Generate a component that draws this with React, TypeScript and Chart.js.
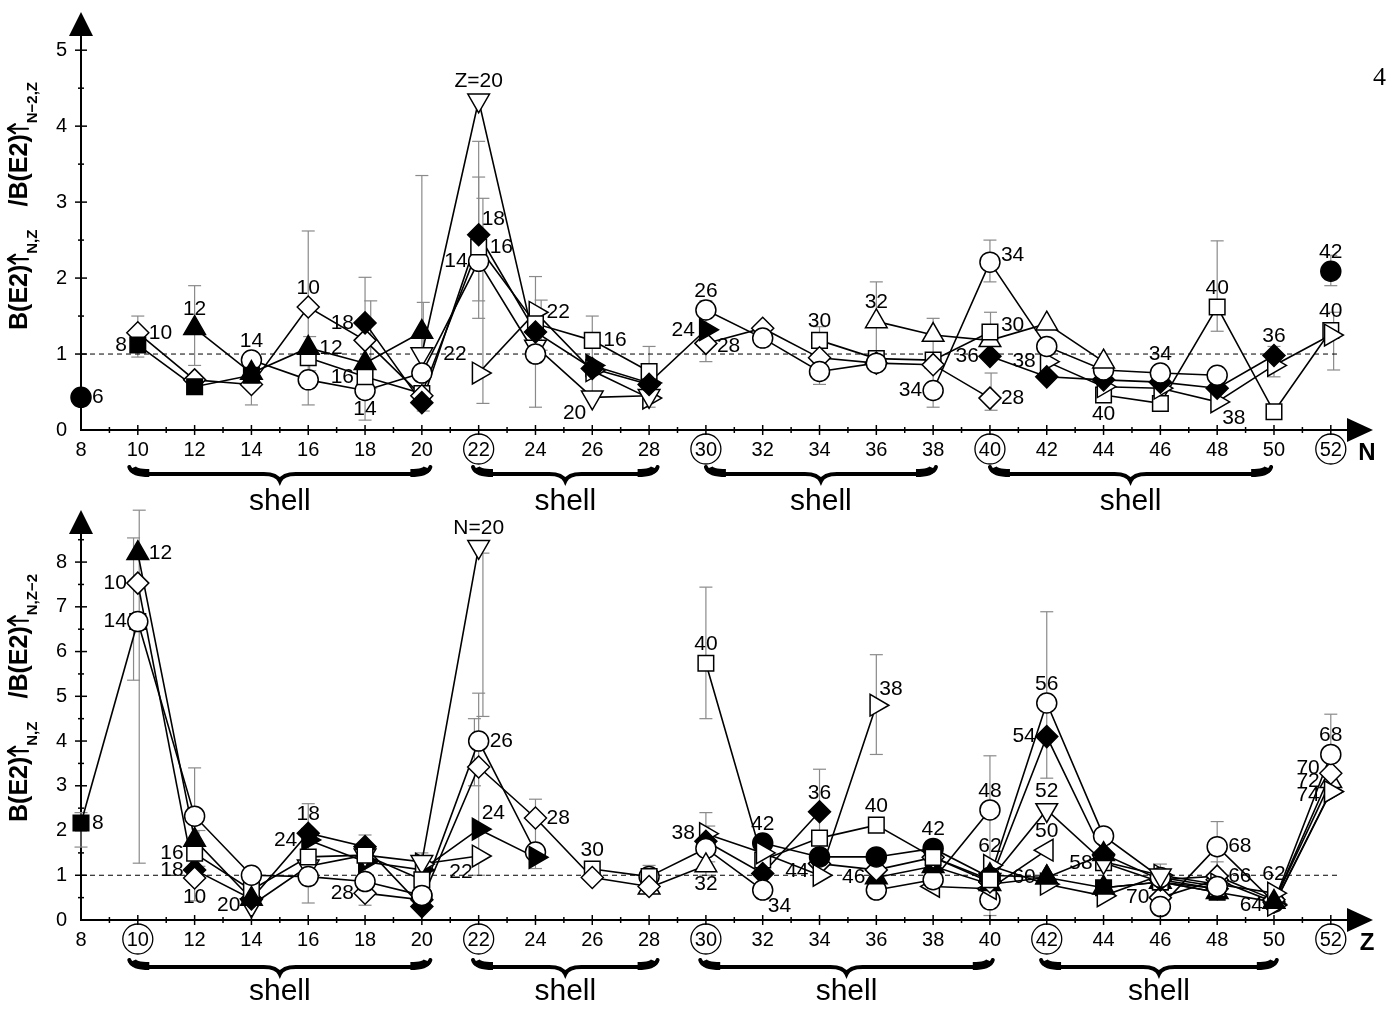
import { useEffect, useRef } from 'react';
import { Chart, registerables } from 'chart.js';

Chart.register(...registerables);

const FONT = '"Liberation Sans", Arial, Helvetica, sans-serif';

type Pt = [number, number];
type ErrBar = [number, number, number]; // x, upper, lower
type PtLabel = [number, number, string, string]; // x, y, text, side

// ---------- axes ----------
const xTickValues = [8, 10, 12, 14, 16, 18, 20, 22, 24, 26, 28, 30, 32, 34, 36, 38, 40, 42, 44, 46, 48, 50, 52];
const topYTickValues = [0, 1, 2, 3, 4, 5];
const botYTickValues = [0, 1, 2, 3, 4, 5, 6, 7, 8];
const topCircled = [22, 30, 40, 52];
const botCircled = [10, 22, 30, 42, 52];
const topShells: Pt[] = [[9.7, 20.3], [21.8, 28.3], [30, 38.1], [40, 49.9]];
const botShells: Pt[] = [[9.7, 20.3], [21.8, 28.3], [29.8, 40.1], [41.8, 50.1]];

// ---------- top panel: ratio vs N (chains of fixed Z) ----------
const tC6: Pt[] = [[8, 0.43]];
const tO8: Pt[] = [[10, 1.12], [12, 0.57], [14, 0.72]];
const tNe10: Pt[] = [[10, 1.28], [12, 0.66], [14, 0.6], [16, 1.62], [18, 1.18], [20, 0.45]];
const tMg12: Pt[] = [[12, 1.34], [14, 0.75], [16, 1.08], [18, 0.88], [20, 1.29]];
const tSi14: Pt[] = [[14, 0.92], [16, 0.66], [18, 0.52], [20, 0.75], [22, 2.22], [24, 1.0]];
const tS16: Pt[] = [[16, 0.95], [18, 0.7], [20, 0.48], [22, 2.41], [24, 1.4], [26, 1.18], [28, 0.77]];
const tAr18: Pt[] = [[18, 1.41], [20, 0.36], [22, 2.57], [24, 1.29], [26, 0.81], [28, 0.6]];
const tCa20: Pt[] = [[20, 1.0], [22, 4.34], [24, 1.1], [26, 0.43], [28, 0.45]];
const tTi22: Pt[] = [[22, 0.75], [24, 1.55], [26, 0.78], [28, 0.42]];
const tCr24: Pt[] = [[26, 0.85], [28, 0.62], [30, 1.32]];
const tFe26: Pt[] = [[30, 1.58], [32, 1.21], [34, 0.77], [36, 0.88]];
const tNi28: Pt[] = [[30, 1.14], [32, 1.34], [34, 0.95], [36, 0.88], [38, 0.86], [40, 0.42]];
const tZn30: Pt[] = [[34, 1.18], [36, 0.94], [38, 0.92], [40, 1.29]];
const tGe32: Pt[] = [[36, 1.43], [38, 1.25], [40, 1.18], [42, 1.4], [44, 0.9]];
const tSe34: Pt[] = [[38, 0.52], [40, 2.21], [42, 1.1], [44, 0.79], [46, 0.75], [48, 0.72]];
const tKr36: Pt[] = [[40, 0.97], [42, 0.7], [44, 0.66], [46, 0.63], [48, 0.55], [50, 0.98]];
const tSr38: Pt[] = [[42, 0.9], [44, 0.57], [46, 0.55], [48, 0.37], [50, 0.85], [52, 1.25]];
const tZr40: Pt[] = [[44, 0.46], [46, 0.35], [48, 1.62], [50, 0.24], [52, 1.31]];
const tMo42: Pt[] = [[52, 2.09]];

const topErrors: ErrBar[] = [
  [10, 1.5, 0.96], [12, 1.9, 0.85], [14, 0.85, 0.33], [16, 2.62, 0.33], [16.05, 1.23, 0.78],
  [18, 2.01, 0.13], [18.2, 1.7, 0.55], [20, 3.35, 0.3], [20.05, 1.68, 0.25], [22, 3.8, 1.47],
  [22, 3.33, 1.7], [22.15, 3.05, 0.35], [24, 2.02, 0.3], [24.2, 1.71, 1.05], [26, 1.5, 0.5],
  [28, 1.1, 0.3], [30, 1.7, 0.9], [34, 1.36, 0.6], [36, 1.95, 1.0], [38, 1.47, 0.3],
  [40, 2.5, 1.95], [40.02, 1.55, 1.0], [40.04, 0.75, 0.26], [48, 2.49, 1.3], [50, 1.1, 0.7],
  [52, 2.3, 1.9], [52.1, 1.55, 0.79],
];

const topLabels: PtLabel[] = [
  [8, 0.43, '6', 'e'], [10, 1.12, '8', 'w'], [10, 1.28, '10', 'e'], [12, 1.34, '12', 'n'],
  [14, 0.92, '14', 'n'], [16, 1.62, '10', 'n'], [16, 1.08, '12', 'e'], [18, 1.41, '18', 'w'],
  [18, 0.7, '16', 'w'], [18, 0.52, '14', 's'], [22, 4.34, 'Z=20', 'n'], [22, 2.57, '18', 'ne'],
  [22, 2.41, '16', 'e'], [22, 2.22, '14', 'w'], [22, 0.75, '22', 'nw'], [24, 1.55, '22', 'e'],
  [26, 1.18, '16', 'e'], [26, 0.43, '20', 'sw'], [30, 1.32, '24', 'w'], [30, 1.58, '26', 'n'],
  [30, 1.1, '28', 'e'], [34, 1.18, '30', 'n'], [36, 1.43, '32', 'n'], [38, 0.52, '34', 'w'],
  [40, 2.3, '34', 'e'], [40, 1.38, '30', 'e'], [40, 0.97, '36', 'w'], [40, 0.42, '28', 'e'],
  [42, 0.9, '38', 'w'], [44, 0.46, '40', 's'], [46, 0.75, '34', 'n'], [48, 1.62, '40', 'n'],
  [48, 0.37, '38', 'se'], [50, 0.98, '36', 'n'], [52, 2.09, '42', 'n'], [52, 1.31, '40', 'n'],
];

// ---------- bottom panel: ratio vs Z (chains of fixed N) ----------
const bN8: Pt[] = [[8, 2.17], [10, 6.67]];
const bN10: Pt[] = [[10, 7.53], [12, 0.94]];
const bN12: Pt[] = [[10, 8.2], [12, 1.79], [14, 0.47]];
const bN14: Pt[] = [[10, 6.67], [12, 2.32], [14, 1.0], [16, 0.97], [18, 0.86], [20, 0.55]];
const bN16: Pt[] = [[12, 1.49], [14, 0.67], [16, 1.41], [18, 1.45], [20, 0.9]];
const bN18: Pt[] = [[12, 1.12], [14, 0.47], [16, 1.94], [18, 1.64], [20, 0.3]];
const bN20: Pt[] = [[14, 0.33], [16, 1.2], [18, 1.45], [20, 1.3], [22, 8.34]];
const bN22: Pt[] = [[20, 1.25], [22, 1.43]];
const bN24: Pt[] = [[16, 1.79], [18, 1.3], [20, 1.12], [22, 2.03], [24, 1.4]];
const bN26: Pt[] = [[20, 0.55], [22, 4.0], [24, 1.52]];
const bN28: Pt[] = [[18, 0.6], [20, 0.45], [22, 3.42], [24, 2.28], [26, 0.95], [28, 0.75]];
const bN30: Pt[] = [[26, 1.14], [28, 0.97]];
const bN32: Pt[] = [[28, 0.72], [30, 1.22]];
const bN34: Pt[] = [[28, 0.97], [30, 1.6], [32, 0.67]];
const bN36: Pt[] = [[30, 1.76], [32, 1.04], [34, 2.42]];
const bN38: Pt[] = [[30, 1.93], [32, 1.5], [34, 1.0], [36, 4.8]];
const bN40: Pt[] = [[30, 5.74], [32, 1.34], [34, 1.83], [36, 2.12], [38, 1.4], [40, 0.9]];
const bN42: Pt[] = [[32, 1.72], [34, 1.41], [36, 1.41], [38, 1.6], [40, 0.95]];
const bN44: Pt[] = [[34, 1.26], [36, 1.12], [38, 1.4], [40, 0.85]];
const bN46: Pt[] = [[36, 0.95], [38, 1.2], [40, 0.8], [42, 0.95], [44, 1.47]];
const bN48: Pt[] = [[36, 0.67], [38, 0.9], [40, 2.46]];
const bN50: Pt[] = [[38, 0.75], [40, 0.7], [42, 1.56]];
const bN52: Pt[] = [[40, 0.9], [42, 2.46], [44, 1.3], [46, 1.0]];
const bN54: Pt[] = [[40, 0.85], [42, 4.1], [44, 1.47], [46, 0.9], [48, 0.7]];
const bN56: Pt[] = [[40, 0.95], [42, 4.85], [44, 1.88], [46, 0.95], [48, 0.75]];
const bN58: Pt[] = [[44, 1.28], [46, 0.85], [48, 0.7]];
const bN60: Pt[] = [[40, 1.0], [42, 0.95], [44, 0.72], [46, 0.85], [48, 0.62], [50, 0.4]];
const bN62: Pt[] = [[40, 1.22], [42, 0.8], [44, 0.54], [46, 1.0], [48, 0.8], [50, 0.6]];
const bN64: Pt[] = [[50, 0.33], [52, 2.87]];
const bN66: Pt[] = [[46, 0.9], [48, 0.98], [50, 0.45]];
const bN68: Pt[] = [[46, 0.3], [48, 1.64], [50, 0.4], [52, 3.7]];
const bN70: Pt[] = [[46, 0.5], [48, 0.9], [50, 0.4], [52, 3.28]];
const bN72: Pt[] = [[50, 0.4], [52, 3.1]];
const bN74: Pt[] = [[50, 0.35], [52, 2.87]];
const bSq: Pt[] = [[44, 0.72], [46, 0.85], [48, 0.62]];
const bC40: Pt[] = [[40, 0.45]];

const botErrors: ErrBar[] = [
  [8, 2.4, 1.63], [10.05, 9.16, 1.27], [9.85, 8.54, 5.36], [12, 3.4, 0.43], [12.15, 2.0, 1.2],
  [16, 2.6, 0.38], [18, 1.9, 0.33], [20, 1.5, 0.9], [22.15, 8.2, 4.55], [22, 5.07, 1.0],
  [21.85, 4.5, 3.0], [24, 2.7, 1.15], [28, 1.22, 0.7], [30, 7.44, 4.5], [30, 2.4, 1.0],
  [30.1, 2.1, 1.3], [34, 3.37, 1.5], [36, 5.93, 3.7], [40, 3.67, 1.25], [40, 1.3, 0.1],
  [42, 6.89, 3.17], [46, 1.25, 0.3], [48, 2.2, 1.1], [48, 1.3, 0.7], [52, 4.6, 2.9],
];

const botLabels: PtLabel[] = [
  [8, 2.17, '8', 'e'], [10, 8.2, '12', 'e'], [10, 7.53, '10', 'w'], [10, 6.67, '14', 'w'],
  [12, 1.49, '16', 'w'], [12, 1.12, '18', 'w'], [12, 0.94, '10', 's'], [14, 0.33, '20', 'w'],
  [16, 1.94, '18', 'n'], [16, 1.79, '24', 'w'], [18, 0.6, '28', 'w'], [22, 1.43, '22', 'sw'],
  [22, 8.34, 'N=20', 'n'], [22, 4.0, '26', 'e'], [22, 2.03, '24', 'ne'], [24, 2.28, '28', 'e'],
  [26, 1.14, '30', 'n'], [30, 1.93, '38', 'w'], [30, 5.74, '40', 'n'], [30, 1.22, '32', 's'],
  [32, 1.72, '42', 'n'], [32, 0.67, '34', 'se'], [34, 2.42, '36', 'n'], [34, 1.1, '44', 'w'],
  [36, 4.8, '38', 'ne'], [36, 2.12, '40', 'n'], [36, 0.95, '46', 'w'], [38, 1.6, '42', 'n'],
  [40, 2.46, '48', 'n'], [40, 1.22, '62', 'n'], [42, 4.85, '56', 'n'], [42, 4.1, '54', 'w'],
  [42, 2.46, '52', 'n'], [42, 1.56, '50', 'n'], [42, 0.95, '60', 'w'], [44, 1.28, '58', 'w'],
  [46, 0.5, '70', 'w'], [48, 1.64, '68', 'e'], [48, 0.98, '66', 'e'], [50, 0.6, '62', 'n'],
  [50, 0.33, '64', 'w'], [52, 3.7, '68', 'n'], [52, 3.4, '70', 'w'], [52, 3.1, '72', 'w'],
  [52, 2.8, '74', 'w'],
];

// ---------- styling helpers ----------
type Series = { d: Pt[]; m: string };
type TitlePart = { t: string; kind: 'main' | 'sub' | 'arrow'; gapAfter?: boolean };

interface Panel {
  height: number;
  padTop: number;
  padBottom: number;
  yMax: number;
  yTicks: number[];
  yMinorMax: number;
  series: Series[];
  errors: ErrBar[];
  labels: PtLabel[];
  circled: number[];
  shells: Pt[];
  axisName: string;
  title: TitlePart[];
  titleStartY: number;
  braceOff: number;
}

function markerStyle(m: string) {
  const fill = m[0] === 'f' ? '#000' : '#fff';
  const k = m.slice(1);
  if (k === 'c') return { style: 'circle', r: 10, rot: 0, fill };
  if (k === 's') return { style: 'rect', r: 11, rot: 0, fill };
  if (k === 'd') return { style: 'rectRot', r: 11, rot: 0, fill };
  const rots: Record<string, number> = { tu: 0, tr: 90, td: 180, tl: 270 };
  return { style: 'triangle', r: 12.5, rot: rots[k] ?? 0, fill };
}

const topSeries: Series[] = [
  { d: tC6, m: 'fc' }, { d: tO8, m: 'fs' }, { d: tAr18, m: 'fd' }, { d: tNe10, m: 'od' },
  { d: tMg12, m: 'ftu' }, { d: tS16, m: 'os' }, { d: tSi14, m: 'oc' }, { d: tCa20, m: 'otd' },
  { d: tTi22, m: 'otr' }, { d: tCr24, m: 'ftr' }, { d: tFe26, m: 'oc' }, { d: tNi28, m: 'od' },
  { d: tZn30, m: 'os' }, { d: tGe32, m: 'otu' }, { d: tSe34, m: 'oc' }, { d: tKr36, m: 'fd' },
  { d: tSr38, m: 'otr' }, { d: tZr40, m: 'os' }, { d: tMo42, m: 'fc' },
];

const botSeries: Series[] = [
  { d: bN12, m: 'ftu' }, { d: bN10, m: 'od' }, { d: bN14, m: 'oc' }, { d: bN8, m: 'fs' },
  { d: bN16, m: 'os' }, { d: bN18, m: 'fd' }, { d: bN20, m: 'otd' }, { d: bN22, m: 'otr' },
  { d: bN24, m: 'ftr' }, { d: bN26, m: 'oc' }, { d: bN28, m: 'od' }, { d: bN30, m: 'os' },
  { d: bN32, m: 'otu' }, { d: bN34, m: 'oc' }, { d: bN36, m: 'fd' }, { d: bN38, m: 'otr' },
  { d: bN40, m: 'os' }, { d: bN42, m: 'fc' }, { d: bN44, m: 'od' }, { d: bN46, m: 'ftu' },
  { d: bN48, m: 'oc' }, { d: bN50, m: 'otl' }, { d: bN52, m: 'otd' }, { d: bN56, m: 'oc' },
  { d: bN54, m: 'fd' }, { d: bN58, m: 'os' }, { d: bN60, m: 'ftu' }, { d: bN62, m: 'otr' },
  { d: bN64, m: 'otr' }, { d: bN66, m: 'od' }, { d: bN68, m: 'oc' }, { d: bN70, m: 'od' },
  { d: bN72, m: 'otu' }, { d: bN74, m: 'otr' }, { d: bSq, m: 'fs' }, { d: bC40, m: 'oc' },
];

const topPanel: Panel = {
  height: 515, padTop: 35, padBottom: 45, yMax: 5.2, yTicks: topYTickValues, yMinorMax: 5,
  series: topSeries, errors: topErrors, labels: topLabels, circled: topCircled, shells: topShells,
  axisName: 'N',
  title: [
    { t: 'B(E2)', kind: 'main' }, { t: '↑', kind: 'arrow' }, { t: 'N,Z', kind: 'sub', gapAfter: true },
    { t: '/B(E2)', kind: 'main' }, { t: '↑', kind: 'arrow' }, { t: 'N−2,Z', kind: 'sub' },
  ],
  titleStartY: 330, braceOff: 37,
};

const botPanel: Panel = {
  height: 511, padTop: 33, padBottom: 51, yMax: 8.65, yTicks: botYTickValues, yMinorMax: 8.5,
  series: botSeries, errors: botErrors, labels: botLabels, circled: botCircled, shells: botShells,
  axisName: 'Z',
  title: [
    { t: 'B(E2)', kind: 'main' }, { t: '↑', kind: 'arrow' }, { t: 'N,Z', kind: 'sub', gapAfter: true },
    { t: '/B(E2)', kind: 'main' }, { t: '↑', kind: 'arrow' }, { t: 'N,Z−2', kind: 'sub' },
  ],
  titleStartY: 322, braceOff: 40,
};

const TITLE_MAIN = 25;
const TITLE_SUB = 15;
const TITLE_LEN = 248;
const ARROW_W = 11;

function line(ctx: CanvasRenderingContext2D, x1: number, y1: number, x2: number, y2: number) {
  ctx.beginPath();
  ctx.moveTo(x1, y1);
  ctx.lineTo(x2, y2);
  ctx.stroke();
}

function drawBrace(ctx: CanvasRenderingContext2D, x1: number, x2: number, y0: number) {
  const xm = (x1 + x2) / 2;
  const h = 7;
  ctx.save();
  ctx.strokeStyle = '#000';
  ctx.lineCap = 'round';
  ctx.lineWidth = 4;
  ctx.beginPath();
  ctx.moveTo(x1, y0);
  ctx.quadraticCurveTo(x1 + 2, y0 + h, x1 + 18, y0 + h);
  ctx.lineTo(xm - 16, y0 + h);
  ctx.quadraticCurveTo(xm - 3, y0 + h, xm, y0 + h + 7);
  ctx.quadraticCurveTo(xm + 3, y0 + h, xm + 16, y0 + h);
  ctx.lineTo(x2 - 18, y0 + h);
  ctx.quadraticCurveTo(x2 - 2, y0 + h, x2, y0);
  ctx.stroke();
  ctx.lineWidth = 8;
  ctx.lineCap = 'butt';
  ctx.beginPath();
  ctx.moveTo(x1 + 3, y0 + 1);
  ctx.quadraticCurveTo(x1 + 5, y0 + h - 1, x1 + 20, y0 + h - 1);
  ctx.stroke();
  ctx.beginPath();
  ctx.moveTo(x2 - 3, y0 + 1);
  ctx.quadraticCurveTo(x2 - 5, y0 + h - 1, x2 - 20, y0 + h - 1);
  ctx.stroke();
  ctx.restore();
}

function drawPtLabel(ctx: CanvasRenderingContext2D, px: number, py: number, text: string, side: string) {
  let x = px;
  let y = py;
  let align: CanvasTextAlign = 'center';
  switch (side) {
    case 'n': y = py - 19; break;
    case 's': y = py + 19; break;
    case 'e': x = px + 11; align = 'left'; break;
    case 'w': x = px - 11; align = 'right'; break;
    case 'ne': x = px + 3; y = py - 16; align = 'left'; break;
    case 'nw': x = px - 12; y = py - 19; align = 'right'; break;
    case 'se': x = px + 5; y = py + 16; align = 'left'; break;
    case 'sw': x = px - 6; y = py + 16; align = 'right'; break;
  }
  ctx.textAlign = align;
  ctx.fillText(text, x, y);
}

function drawTitle(ctx: CanvasRenderingContext2D, parts: TitlePart[], baseX: number, startY: number) {
  const fontOf = (p: TitlePart) => `bold ${p.kind === 'sub' ? TITLE_SUB : TITLE_MAIN}px ${FONT}`;
  const widthOf = (p: TitlePart) => {
    if (p.kind === 'arrow') return ARROW_W;
    ctx.font = fontOf(p);
    return ctx.measureText(p.t).width;
  };
  let total = 0;
  for (const p of parts) total += widthOf(p);
  const gap = Math.max(8, TITLE_LEN - total);
  ctx.save();
  ctx.translate(baseX, startY);
  ctx.rotate(-Math.PI / 2);
  ctx.textAlign = 'left';
  ctx.textBaseline = 'alphabetic';
  ctx.fillStyle = '#000';
  ctx.strokeStyle = '#000';
  let tx = 0;
  for (const p of parts) {
    if (p.kind === 'arrow') {
      const cx = tx + ARROW_W / 2;
      ctx.lineWidth = 2.2;
      ctx.lineCap = 'round';
      line(ctx, cx, 1, cx, -18);
      line(ctx, cx, -19, cx - 4.5, -12);
      line(ctx, cx, -19, cx + 4.5, -12);
    } else {
      ctx.font = fontOf(p);
      ctx.fillText(p.t, tx, p.kind === 'sub' ? 10 : 0);
    }
    tx += widthOf(p) + (p.gapAfter ? gap : 0);
  }
  ctx.restore();
}

function makeChart(canvas: HTMLCanvasElement, p: Panel): Chart {
  const datasets: any[] = [
    {
      data: [{ x: 8, y: 1 }, { x: 52.25, y: 1 }], showLine: true, borderColor: '#000', borderWidth: 1,
      borderDash: [5, 4], pointRadius: 0, order: 3, clip: false,
    },
  ];
  for (const s of p.series) {
    const st = markerStyle(s.m);
    const data = s.d.map(([x, y]) => ({ x, y }));
    datasets.push({
      data, showLine: true, borderColor: '#000', borderWidth: 1.6, pointRadius: 0, order: 2, clip: false, tension: 0,
    });
    datasets.push({
      data, showLine: false, pointStyle: st.style, pointRadius: st.r, pointHoverRadius: st.r,
      pointRotation: st.rot, pointBackgroundColor: st.fill, pointBorderColor: '#000', pointBorderWidth: 1.5,
      order: 1, clip: false,
    });
  }

  const decor = {
    id: 'decor',
    beforeDatasetsDraw(chart: any) {
      const { ctx, scales } = chart;
      const xs = scales.x;
      const ys = scales.y;
      ctx.save();
      ctx.strokeStyle = '#8a8a8a';
      ctx.lineWidth = 1.2;
      for (const [x, hi, lo] of p.errors) {
        const px = xs.getPixelForValue(x);
        const ph = ys.getPixelForValue(hi);
        const pl = ys.getPixelForValue(lo);
        line(ctx, px, ph, px, pl);
        line(ctx, px - 6.5, ph, px + 6.5, ph);
        line(ctx, px - 6.5, pl, px + 6.5, pl);
      }
      ctx.restore();
    },
    afterDatasetsDraw(chart: any) {
      const { ctx, scales } = chart;
      ctx.save();
      ctx.fillStyle = '#000';
      ctx.font = `21px ${FONT}`;
      ctx.textBaseline = 'middle';
      for (const [x, y, t, side] of p.labels) {
        drawPtLabel(ctx, scales.x.getPixelForValue(x), scales.y.getPixelForValue(y), t, side);
      }
      ctx.restore();
    },
    afterDraw(chart: any) {
      const { ctx, scales, chartArea } = chart;
      const xs = scales.x;
      const ys = scales.y;
      const ay = ys.getPixelForValue(0);
      const ax = xs.getPixelForValue(8);
      ctx.save();
      ctx.strokeStyle = '#000';
      ctx.fillStyle = '#000';
      ctx.lineWidth = 1.5;
      for (let v = 9; v <= 52; v++) {
        const px = xs.getPixelForValue(v);
        const L = v % 2 === 0 ? 5 : 3;
        line(ctx, px, ay - L, px, ay + L);
      }
      for (let v = 0.5; v <= p.yMinorMax + 1e-6; v += 0.5) {
        const py = ys.getPixelForValue(v);
        const L = Math.abs(v - Math.round(v)) < 1e-6 ? 6 : 3;
        line(ctx, ax - L, py, ax + L, py);
      }
      const top = chartArea.top;
      ctx.beginPath();
      ctx.moveTo(ax - 12, top + 1);
      ctx.lineTo(ax + 12, top + 1);
      ctx.lineTo(ax, top - 23);
      ctx.closePath();
      ctx.fill();
      const right = chartArea.right;
      ctx.lineWidth = 2;
      line(ctx, right - 1, ay, right + 4, ay);
      ctx.beginPath();
      ctx.moveTo(right + 2, ay - 12);
      ctx.lineTo(right + 2, ay + 12);
      ctx.lineTo(right + 28, ay);
      ctx.closePath();
      ctx.fill();
      ctx.font = `bold 24px ${FONT}`;
      ctx.textAlign = 'center';
      ctx.textBaseline = 'middle';
      ctx.fillText(p.axisName, right + 22, ay + 23);
      ctx.lineWidth = 1.3;
      for (const v of p.circled) {
        ctx.beginPath();
        ctx.arc(xs.getPixelForValue(v), ay + 19, 15, 0, Math.PI * 2);
        ctx.stroke();
      }
      ctx.textBaseline = 'alphabetic';
      for (const [a, b] of p.shells) {
        const x1 = xs.getPixelForValue(a);
        const x2 = xs.getPixelForValue(b);
        drawBrace(ctx, x1, x2, ay + p.braceOff);
        ctx.fillStyle = '#000';
        ctx.font = `30px ${FONT}`;
        ctx.textAlign = 'center';
        ctx.fillText('shell', (x1 + x2) / 2, ay + 80);
      }
      ctx.restore();
      drawTitle(ctx, p.title, 27, p.titleStartY);
    },
  };

  return new Chart(canvas, {
    type: 'scatter',
    data: { datasets },
    options: {
      responsive: false,
      maintainAspectRatio: false,
      animation: false,
      devicePixelRatio: 1,
      events: [],
      layout: { padding: { left: 41, right: 54, top: p.padTop, bottom: p.padBottom } },
      plugins: { legend: { display: false }, tooltip: { enabled: false }, title: { display: false } },
      scales: {
        x: {
          type: 'linear',
          min: 8,
          max: 52.5,
          afterBuildTicks: (axis: any) => { axis.ticks = xTickValues.map((v) => ({ value: v })); },
          afterFit: (axis: any) => { axis.height = 40; },
          grid: { display: false, drawTicks: false },
          border: { display: true, color: '#000', width: 2 },
          ticks: { font: { family: FONT, size: 20 }, color: '#000', padding: 8, maxRotation: 0, autoSkip: false },
        },
        y: {
          type: 'linear',
          min: 0,
          max: p.yMax,
          afterBuildTicks: (axis: any) => { axis.ticks = p.yTicks.map((v) => ({ value: v })); },
          afterFit: (axis: any) => { axis.width = 40; },
          grid: { display: false, drawTicks: false },
          border: { display: true, color: '#000', width: 2 },
          ticks: { font: { family: FONT, size: 20 }, color: '#000', padding: 14 },
        },
      },
    } as any,
    plugins: [decor],
  });
}

export default function App() {
  const r1 = useRef<HTMLCanvasElement>(null);
  const r2 = useRef<HTMLCanvasElement>(null);
  useEffect(() => {
    const c1 = makeChart(r1.current!, topPanel);
    const c2 = makeChart(r2.current!, botPanel);
    return () => {
      c1.destroy();
      c2.destroy();
    };
  }, []);
  return (
    <div style={{ position: 'absolute', left: 0, top: 0, width: 1399, height: 1011, background: '#fff', overflow: 'hidden' }}>
      <canvas ref={r1} width={1399} height={topPanel.height} style={{ position: 'absolute', left: 0, top: 0 }} />
      <canvas ref={r2} width={1399} height={botPanel.height} style={{ position: 'absolute', left: 0, top: 500 }} />
      <div style={{ position: 'absolute', left: 1373, top: 62, font: '26px "Liberation Serif", "DejaVu Serif", serif', color: '#000' }}>4</div>
    </div>
  );
}
